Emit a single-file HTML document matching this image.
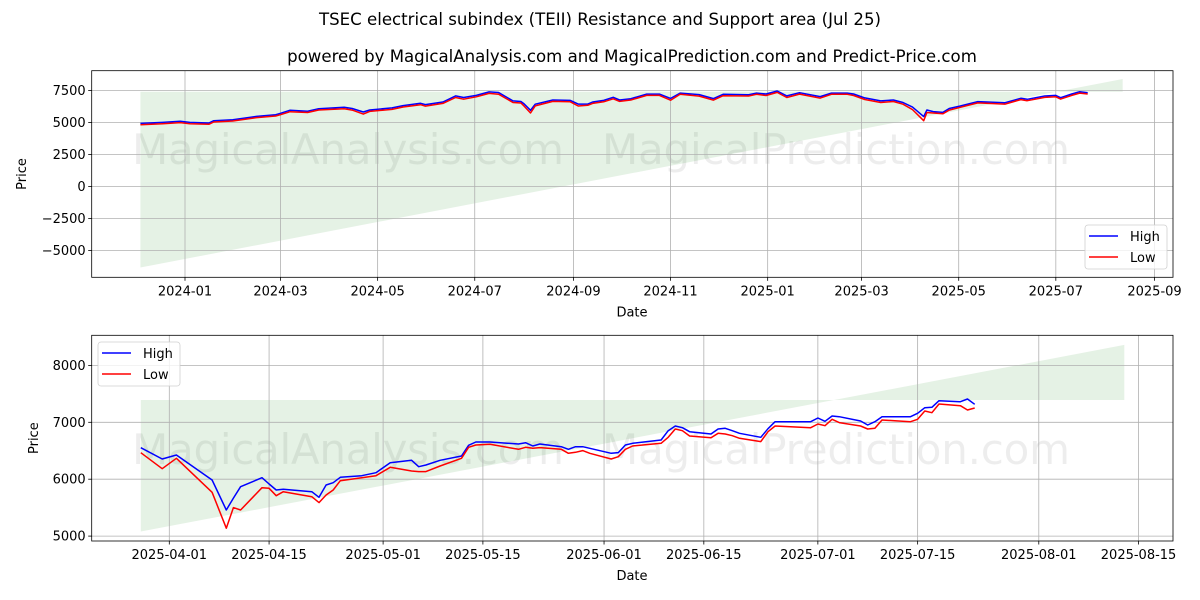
<!DOCTYPE html>
<html><head><meta charset="utf-8"><style>
html,body{margin:0;padding:0;background:#fff;}
svg{display:block;font-family:"DejaVu Sans","Liberation Sans",sans-serif;}
</style></head><body>
<svg id="chart" width="1200" height="600" viewBox="0 0 1200 600" xmlns="http://www.w3.org/2000/svg">
<text x="600" y="25" text-anchor="middle" font-size="16.6" fill="#000">TSEC electrical subindex (TEII) Resistance and Support area (Jul 25)</text>
<text x="632" y="62" text-anchor="middle" font-size="16.6" fill="#000">powered by MagicalAnalysis.com and MagicalPrediction.com and Predict-Price.com</text>
<g id="top"></g>
<g id="bot"></g>
</svg>
<script>
// ---- Top panel data ----
const topDates = ["2023-12-04","2023-12-18","2023-12-29","2024-01-04","2024-01-16","2024-01-19","2024-01-31","2024-02-15","2024-02-27","2024-03-01","2024-03-07","2024-03-18","2024-03-25","2024-04-10","2024-04-15","2024-04-22","2024-04-26","2024-05-10","2024-05-17","2024-05-28","2024-05-31","2024-06-11","2024-06-19","2024-06-24","2024-07-02","2024-07-10","2024-07-16","2024-07-25","2024-07-30","2024-08-01","2024-08-05","2024-08-08","2024-08-19","2024-08-30","2024-09-04","2024-09-10","2024-09-13","2024-09-20","2024-09-26","2024-09-30","2024-10-07","2024-10-17","2024-10-25","2024-11-01","2024-11-07","2024-11-19","2024-11-28","2024-12-04","2024-12-20","2024-12-25","2024-12-31","2025-01-07","2025-01-13","2025-01-21","2025-02-03","2025-02-10","2025-02-20","2025-02-24","2025-03-03","2025-03-13","2025-03-21","2025-03-27","2025-04-02","2025-04-09","2025-04-11","2025-04-15","2025-04-21","2025-04-25","2025-05-02","2025-05-13","2025-05-30","2025-06-09","2025-06-13","2025-06-24","2025-07-01","2025-07-04","2025-07-11","2025-07-16","2025-07-21"];
const topHigh = [4930,5010,5090,5010,4960,5140,5220,5480,5610,5720,5960,5880,6080,6190,6090,5820,5980,6140,6320,6500,6400,6600,7080,6950,7120,7390,7340,6690,6640,6450,5950,6430,6760,6730,6440,6440,6600,6730,6970,6760,6860,7220,7220,6880,7300,7180,6870,7200,7170,7300,7230,7460,7080,7330,7020,7300,7300,7230,6920,6690,6760,6560,6200,5460,5980,5850,5790,6090,6290,6630,6550,6890,6810,7070,7120,6940,7230,7410,7330];
const topLow = [4830,4910,4990,4910,4860,5040,5120,5380,5510,5610,5840,5780,5980,6080,5970,5660,5870,6020,6210,6390,6280,6490,6950,6820,7010,7270,7210,6560,6520,6280,5740,6300,6650,6620,6290,6340,6490,6620,6850,6650,6760,7120,7120,6740,7200,7060,6750,7090,7070,7200,7110,7350,6950,7220,6910,7200,7200,7110,6800,6560,6640,6430,6010,5140,5780,5740,5680,5970,6190,6530,6440,6790,6700,6960,7010,6830,7120,7300,7230];
const topShadeDates = ["2023-12-04","2025-08-12"];
const topShadeFlat = [7400,7400];
const topShadeLine = [-6330,8400];
const topYTicks = [-5000,-2500,0,2500,5000,7500];
const topXTicks = ["2024-01","2024-03","2024-05","2024-07","2024-09","2024-11","2025-01","2025-03","2025-05","2025-07","2025-09"];

// ---- Bottom panel data ----
const botDates = ["2025-03-28","2025-03-31","2025-04-02","2025-04-07","2025-04-09","2025-04-10","2025-04-11","2025-04-14","2025-04-15","2025-04-16","2025-04-17","2025-04-21","2025-04-22","2025-04-23","2025-04-24","2025-04-25","2025-04-28","2025-04-30","2025-05-02","2025-05-05","2025-05-06","2025-05-07","2025-05-09","2025-05-12","2025-05-13","2025-05-14","2025-05-16","2025-05-20","2025-05-21","2025-05-22","2025-05-23","2025-05-26","2025-05-27","2025-05-28","2025-05-29","2025-05-30","2025-06-02","2025-06-03","2025-06-04","2025-06-05","2025-06-09","2025-06-10","2025-06-11","2025-06-12","2025-06-13","2025-06-16","2025-06-17","2025-06-18","2025-06-19","2025-06-20","2025-06-23","2025-06-24","2025-06-25","2025-06-30","2025-07-01","2025-07-02","2025-07-03","2025-07-04","2025-07-07","2025-07-08","2025-07-09","2025-07-10","2025-07-14","2025-07-15","2025-07-16","2025-07-17","2025-07-18","2025-07-21","2025-07-22","2025-07-23"];
const botHigh = [6554,6355,6425,5986,5459,5667,5868,6026,5915,5810,5822,5780,5682,5898,5939,6034,6062,6115,6290,6332,6220,6250,6332,6408,6596,6654,6654,6619,6642,6584,6619,6572,6526,6572,6572,6543,6455,6467,6601,6631,6689,6852,6935,6905,6835,6794,6882,6894,6852,6807,6736,6888,7011,7011,7076,7017,7111,7099,7023,6953,7011,7099,7099,7158,7257,7264,7380,7362,7409,7316];
const botLow = [6466,6185,6367,5770,5139,5500,5459,5850,5840,5710,5780,5693,5588,5723,5810,5974,6026,6062,6209,6144,6133,6133,6232,6367,6560,6601,6613,6526,6560,6543,6555,6526,6455,6473,6502,6455,6355,6396,6526,6584,6631,6736,6882,6852,6760,6730,6807,6794,6765,6719,6660,6835,6935,6905,6970,6940,7053,6994,6935,6882,6894,7040,7011,7053,7199,7169,7322,7292,7216,7251];
const botShadeDates = ["2025-03-28","2025-08-13"];
const botShadeFlat = [7392,7392];
const botShadeLine = [5080,8360];
const botYTicks = [5000,6000,7000,8000];
const botXTicks = ["2025-04-01","2025-04-15","2025-05-01","2025-05-15","2025-06-01","2025-06-15","2025-07-01","2025-07-15","2025-08-01","2025-08-15"];

const NS = "http://www.w3.org/2000/svg";
function mk(parent, tag, attrs){const e=document.createElementNS(NS,tag);for(const k in attrs)e.setAttribute(k,attrs[k]);parent.appendChild(e);return e;}
function day(s){const p=s.split("-");return Date.UTC(+p[0],+p[1]-1,p[2]?+p[2]:1)/86400000;}

function panel(g, cfg){
  const L=91.7,R=1173,T=cfg.top,B=cfg.bottom;
  const xs=d=>cfg.x0+(day(d)-day(cfg.d0))*cfg.pxDay;
  const ys=v=>cfg.yRef+(cfg.vRef-v)*cfg.pxVal;
  const w1=mk(g,"text",{x:348,y:cfg.wmY,"text-anchor":"middle","font-size":42,fill:"#000","fill-opacity":0.07,textLength:432});
  w1.textContent="MagicalAnalysis.com";
  
  
  const w2=mk(g,"text",{x:836,y:cfg.wmY,"text-anchor":"middle","font-size":42,fill:"#000","fill-opacity":0.07,textLength:468});
  w2.textContent="MagicalPrediction.com";
  
  
  const sd=cfg.shadeDates;
  const pts=[[xs(sd[0]),ys(cfg.flat[0])],[xs(sd[1]),ys(cfg.flat[1])],[xs(sd[1]),ys(cfg.line[1])],[xs(sd[0]),ys(cfg.line[0])]];
  const sh=mk(g,"polygon",{points:pts.map(p=>p.join(",")).join(" "),fill:"green","fill-opacity":0.1});
  
  
  cfg.yTicks.forEach(v=>{const y=ys(v);
    const gl=mk(g,"line",{x1:L,x2:R,y1:y,y2:y,stroke:"#b0b0b0","stroke-width":0.8});
    
    
    mk(g,"line",{x1:L-3.5,x2:L,y1:y,y2:y,stroke:"#000","stroke-width":0.8});
    const t=mk(g,"text",{x:L-6,y:y+4.5,"text-anchor":"end","font-size":13,fill:"#000"});
    t.textContent=v<0?"\u2212"+Math.abs(v):String(v);
    
    
  });
  cfg.xTicks.forEach(d=>{const x=xs(d);
    const gl=mk(g,"line",{x1:x,x2:x,y1:T,y2:B,stroke:"#b0b0b0","stroke-width":0.8});
    
    
    mk(g,"line",{x1:x,x2:x,y1:B,y2:B+3.5,stroke:"#000","stroke-width":0.8});
    const t=mk(g,"text",{x:x,y:B+18,"text-anchor":"middle","font-size":13,fill:"#000"});
    t.textContent=d;
    
    
  });
  [[cfg.high,"#0000ff","high-line"],[cfg.low,"#ff0000","low-line"]].forEach(s=>{
    const d=cfg.dates.map((dt,i)=>(i?"L":"M")+xs(dt).toFixed(1)+","+ys(s[0][i]).toFixed(1)).join("");
    const p=mk(g,"path",{d:d,fill:"none",stroke:s[1],"stroke-width":1.5,"stroke-linejoin":"round"});
    
    
  });
  const fr=mk(g,"rect",{x:L,y:T,width:R-L,height:B-T,fill:"none",stroke:"#000","stroke-width":0.8});
  
  
  const xl=mk(g,"text",{x:632,y:B+39,"text-anchor":"middle","font-size":13,fill:"#000"});
  xl.textContent="Date";
  
  
  const cy=(T+B)/2;
  const yl=mk(g,"text",{x:cfg.ylX,y:cy,"text-anchor":"middle","font-size":13,fill:"#000",transform:"rotate(-90 "+cfg.ylX+" "+cy+")"});
  yl.textContent="Price";
  
  
  const lx=cfg.legX,ly=cfg.legY;
  const lg=mk(g,"g",{});
  
  
  mk(lg,"rect",{x:lx,y:ly,width:82,height:44,rx:3,fill:"#fff","fill-opacity":0.8,stroke:"#d0d0d0","stroke-width":0.8});
  [["High","#0000ff",11],["Low","#ff0000",32]].forEach(e=>{
    const eg=mk(lg,"g",{});
    
    
    mk(eg,"line",{x1:lx+4,x2:lx+33,y1:ly+e[2],y2:ly+e[2],stroke:e[1],"stroke-width":1.5});
    const t=mk(eg,"text",{x:lx+45,y:ly+e[2]+5,"font-size":13,fill:"#000"});
    t.textContent=e[0];
  });
}

panel(document.getElementById("top"),{top:70.7,bottom:277.3,x0:185,d0:"2024-01-01",pxDay:1.592,yRef:122.5,vRef:5000,pxVal:32/2500,
  dates:topDates,high:topHigh,low:topLow,shadeDates:topShadeDates,flat:topShadeFlat,line:topShadeLine,
  yTicks:topYTicks,xTicks:topXTicks,wmY:164,ylX:26,legX:1085,legY:225});
panel(document.getElementById("bot"),{top:335.3,bottom:541,x0:169.3,d0:"2025-04-01",pxDay:7.127,yRef:422.3,vRef:7000,pxVal:0.0569,
  dates:botDates,high:botHigh,low:botLow,shadeDates:botShadeDates,flat:botShadeFlat,line:botShadeLine,
  yTicks:botYTicks,xTicks:botXTicks,wmY:464,ylX:38,legX:98,legY:342});
</script>
</body></html>
